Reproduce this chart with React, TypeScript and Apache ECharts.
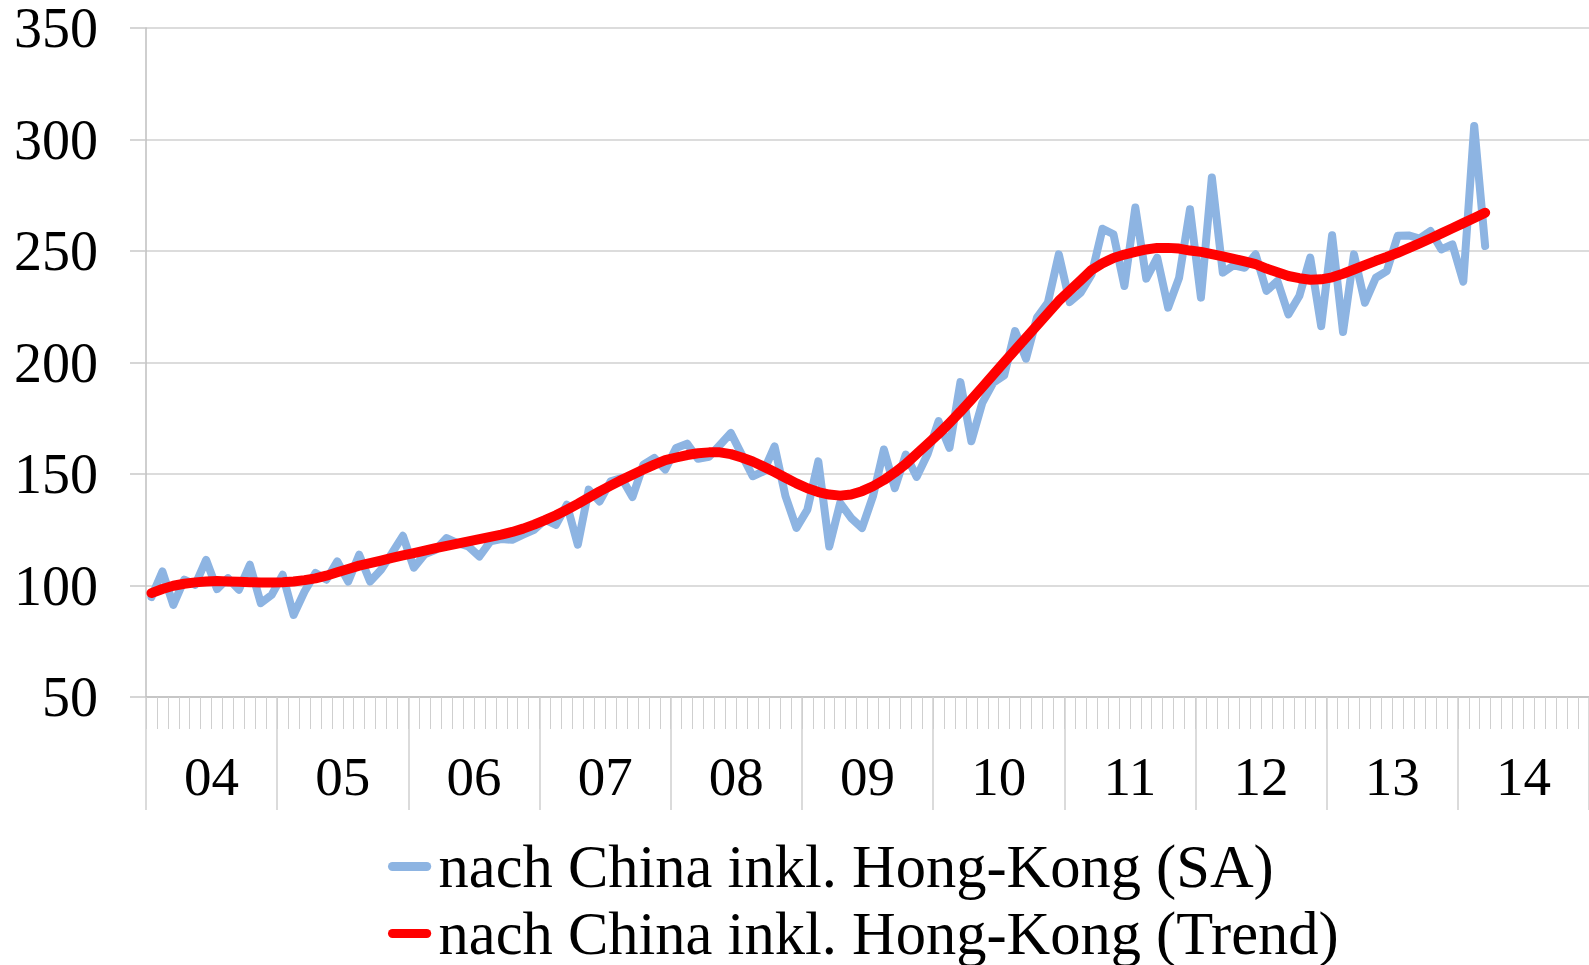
import React, { useEffect, useRef } from "react";
import * as echarts from "echarts";

const years = ["04", "05", "06", "07", "08", "09", "10", "11", "12", "13", "14"];
const monthNames = ["01", "02", "03", "04", "05", "06", "07", "08", "09", "10", "11", "12"];
const monthCategories = years.flatMap((y) => monthNames.map((m) => `20${y}-${m}`));

const yTicks = { min: 50, max: 350, interval: 50 };

const seriesSA = [
  94.8, 106.3, 91.3, 102.6, 100.3, 111.5, 98.4, 103.3, 98.1, 109.3, 92.1, 95.8,
  104.8, 86.8, 97.3, 105.6, 102.6, 110.8, 101.8, 113.8, 101.8, 107.1, 114.5, 122.3,
  108, 114, 116, 121.3, 119, 117.5, 113, 119.8, 120.8, 120.5, 122.8, 125,
  129.5, 127.2, 136.2, 118.3, 143, 137.7, 146.7, 148.2, 139.7, 154.2, 157.2, 152,
  161.7, 163.6, 156.8, 157.7, 163, 168.4, 158.7, 149, 151.2, 162.4, 140, 125.8,
  134, 155.7, 117.5, 137, 130.3, 125.8, 140, 161, 143.7, 158.7, 148.7, 159,
  173.7, 161.7, 191.2, 164.7, 181.9, 190.9, 194.2, 214.1, 201.7, 220.1, 226.8, 248.5,
  227.1, 231.3, 239.5, 260, 257.5, 234.3, 269.5, 237.6, 247, 224.6, 238, 268.7,
  229.1, 283, 240.3, 243.6, 242.5, 248.5, 232.1, 236.6, 221.6, 229.8, 247, 216.3,
  257.1, 213.7, 248.5, 226.8, 238, 241, 256.8, 257, 255.6, 259, 250.7, 253,
  236.3, 306.1, 252.2,
];

const seriesTrend = [
  96.6, 98.4, 99.9, 100.8, 101.4, 101.8, 102, 101.8, 101.7, 101.5, 101.4, 101.4,
  101.5, 101.8, 102.4, 103.2, 104.4, 105.9, 107.4, 108.9, 110, 111.2, 112.4, 113.5,
  114.5, 115.6, 116.8, 117.8, 118.8, 119.8, 120.8, 121.8, 122.8, 124, 125.5, 127.3,
  129.3, 131.5, 134, 136.6, 139.4, 142.2, 144.8, 147.3, 149.7, 152, 154.2, 156.2,
  157.4, 158.5, 159.3, 159.7, 159.7, 158.9, 157.4, 155.6, 153.3, 150.9, 148.3, 145.8,
  143.6, 141.9, 140.8, 140.3, 140.8, 142.3, 144.5, 147.3, 150.7, 154.5, 159, 163.5,
  168, 172.9, 178, 183.4, 188.9, 194.5, 200.1, 205.6, 211.1, 216.6, 222.1, 227.6,
  232.2, 236.8, 241.5, 244.5, 246.9, 248.4, 249.6, 250.7, 251.4, 251.4, 251.1, 250.2,
  249.6, 248.6, 247.6, 246.5, 245.3, 244.1, 242.1, 240.5, 238.8, 237.8, 237.1, 237.3,
  238.2, 239.8, 241.7, 243.7, 245.6, 247.3, 249.2, 251.3, 253.4, 255.6, 257.9, 260.2,
  262.5, 264.8, 267.2,
];

const nameSA = "nach China inkl. Hong-Kong (SA)";
const nameTrend = "nach China inkl. Hong-Kong (Trend)";

const FONT = "'Liberation Serif', 'Times New Roman', serif";
const CAPSULE = "path://M5,0 L43,0 A5,5 0 0 1 43,10 L5,10 A5,5 0 0 1 5,0 Z";

export default function App() {
  const ref = useRef<HTMLDivElement>(null);
  useEffect(() => {
    if (!ref.current) return;
    const chart = echarts.init(ref.current, undefined, { renderer: "svg" });
    chart.setOption({
      animation: false,
      backgroundColor: "#ffffff",
      grid: { left: 146, top: 28, width: 1444, height: 669, containLabel: false },
      legend: {
        orient: "vertical",
        left: 383,
        top: 831,
        height: 134,
        itemGap: 6,
        itemWidth: 48,
        itemHeight: 9,
        align: "left",
        data: [
          { name: nameSA, icon: CAPSULE, itemStyle: { color: "#8db4e2" } },
          { name: nameTrend, icon: CAPSULE, itemStyle: { color: "#ff0000" } },
        ],
        textStyle: { fontFamily: FONT, fontSize: 60.5, lineHeight: 60, color: "#000" },
      },
      xAxis: [
        {
          type: "category",
          data: monthCategories,
          position: "bottom",
          boundaryGap: true,
          axisLine: { show: true, lineStyle: { color: "#bfbfbf", width: 1.5 } },
          axisTick: { show: true, interval: 0, length: 32, lineStyle: { color: "#cfcfcf", width: 1 } },
          axisLabel: { show: false },
          splitLine: { show: false },
        },
        {
          type: "category",
          data: years,
          position: "bottom",
          offset: 0,
          boundaryGap: true,
          axisLine: { show: false },
          axisTick: { show: true, interval: 0, length: 113, lineStyle: { color: "#cfcfcf", width: 1.5 } },
          axisLabel: { show: true, interval: 0, fontFamily: FONT, fontSize: 55, color: "#000", margin: 52 },
          splitLine: { show: false },
        },
      ],
      yAxis: {
        type: "value",
        min: yTicks.min,
        max: yTicks.max,
        interval: yTicks.interval,
        axisLine: { show: true, lineStyle: { color: "#bfbfbf", width: 1.5 } },
        axisTick: { show: true, length: 16, lineStyle: { color: "#c8c8c8", width: 1.5 } },
        splitLine: { show: true, lineStyle: { color: "#d0d0d0", width: 1.5 } },
        axisLabel: { fontFamily: FONT, fontSize: 56, color: "#000", margin: 48 },
      },
      series: [
        {
          name: nameSA,
          type: "line",
          xAxisIndex: 0,
          data: seriesSA,
          symbol: "none",
          lineStyle: { color: "#8db4e2", width: 8, cap: "round", join: "round" },
          itemStyle: { color: "#8db4e2" },
        },
        {
          name: nameTrend,
          type: "line",
          xAxisIndex: 0,
          data: seriesTrend,
          symbol: "none",
          lineStyle: { color: "#ff0000", width: 10, cap: "round", join: "round" },
          itemStyle: { color: "#ff0000" },
        },
      ],
    });
    return () => chart.dispose();
  }, []);
  return (
    <div
      ref={ref}
      style={{ position: "fixed", left: 0, top: 0, width: 1589, height: 965, background: "#fff" }}
    />
  );
}
